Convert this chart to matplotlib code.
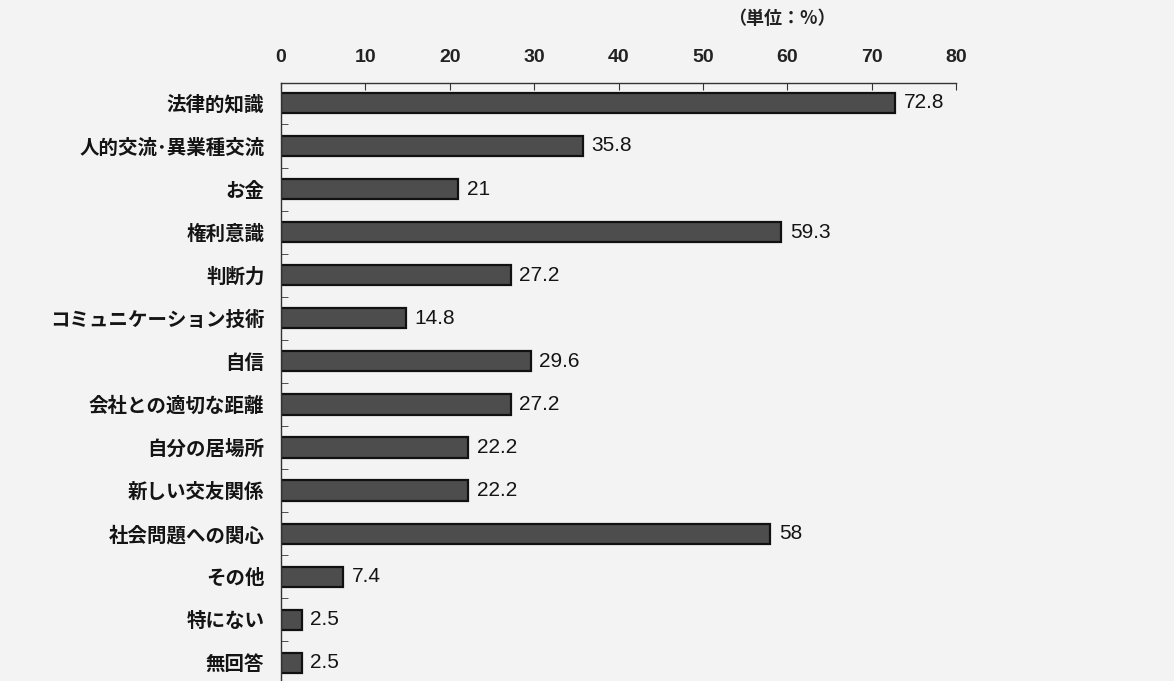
import matplotlib
matplotlib.use("Agg")
import matplotlib.pyplot as plt
import numpy as np

plt.rcParams['font.family'] = ['Noto Sans CJK JP', 'DejaVu Sans']

categories = [
    '法律的知識', '人的交流･異業種交流', 'お金', '権利意識', '判断力',
    'コミュニケーション技術', '自信', '会社との適切な距離', '自分の居場所',
    '新しい交友関係', '社会問題への関心', 'その他', '特にない', '無回答',
]
values = [72.8, 35.8, 21, 59.3, 27.2, 14.8, 29.6, 27.2, 22.2, 22.2, 58, 7.4, 2.5, 2.5]
x_ticks = [0, 10, 20, 30, 40, 50, 60, 70, 80]

num_font = ['Liberation Sans Narrow', 'Liberation Sans', 'DejaVu Sans']
bg = '#f3f3f3'
ink = '#141414'

fig = plt.figure(figsize=(11.74, 6.81), dpi=100, facecolor=bg)
ax = fig.add_axes([0.2394, 0.0, 0.5749, 0.878], facecolor=bg)

y = np.arange(len(categories))
ax.barh(y, values, height=0.47, color='#4d4d4d', edgecolor='#111111', linewidth=1.6)

for yi, v in zip(y, values):
    ax.annotate(f'{v:g}', (v, yi), xytext=(6, 0), textcoords='offset points',
                va='center', ha='left', fontsize=15, color=ink, family=num_font)

ax.set_xlim(0, 80)
ax.set_ylim(13.42, -0.46)
ax.xaxis.tick_top()
ax.set_xticks(x_ticks)
ax.set_xticklabels([str(t) for t in x_ticks], fontsize=14, fontweight='bold',
                   color='#222222', family=num_font)
ax.tick_params(axis='x', direction='in', length=5, pad=12, color='#333333')

ax.set_yticks(y)
ax.set_yticklabels(categories, fontsize=14, fontweight='bold', color=ink)
ax.set_yticks(y[:-1] + 0.5, minor=True)
ax.tick_params(axis='y', which='major', length=0, pad=12)
ax.tick_params(axis='y', which='minor', direction='in', length=5, color='#333333')

for side in ['right', 'bottom']:
    ax.spines[side].set_visible(False)
for side in ['top', 'left']:
    ax.spines[side].set_color('#333333')
    ax.spines[side].set_linewidth(1.0)

fig.text(0.666, 0.973, '（単位：%）', fontsize=13, fontweight='bold',
         color='#222222', ha='center', va='center')

fig.savefig('out.png', dpi=100, facecolor=bg)
